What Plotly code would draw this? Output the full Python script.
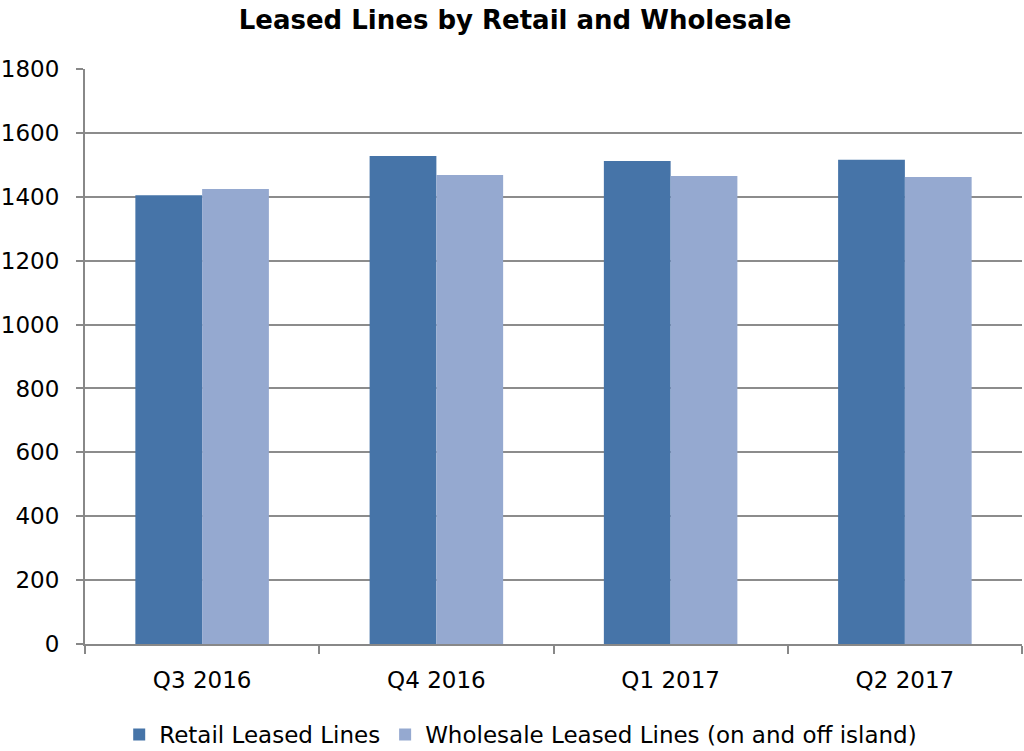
import plotly.graph_objects as go

categories = ["Q3 2016", "Q4 2016", "Q1 2017", "Q2 2017"]
retail = [1405, 1528, 1512, 1516]
wholesale = [1424, 1468, 1465, 1462]
series_names = ["Retail Leased Lines", "Wholesale Leased Lines (on and off island)"]
y_ticks = [0, 200, 400, 600, 800, 1000, 1200, 1400, 1600, 1800]

FONT = "DejaVu Sans"

fig = go.Figure()
fig.add_trace(go.Bar(x=categories, y=retail, name=series_names[0],
                     marker=dict(color="#4674A8", line=dict(width=0))))
fig.add_trace(go.Bar(x=categories, y=wholesale, name=series_names[1],
                     marker=dict(color="#95A9D0", line=dict(width=0))))

fig.update_layout(
    width=1024, height=751,
    paper_bgcolor="white", plot_bgcolor="white",
    margin=dict(l=85, r=2, t=69, b=107, autoexpand=False),
    barmode="group", bargap=0.43, bargroupgap=0,
    title=dict(text="<b>Leased Lines by Retail and Wholesale</b>",
               x=0.503, xanchor="center", y=0.973, yanchor="middle",
               font=dict(family=FONT, size=26, color="black")),
    font=dict(family=FONT, size=23, color="black"),
    legend=dict(orientation="h", x=0.465, xanchor="center", y=-0.12, yanchor="top",
                font=dict(family=FONT, size=23, color="black"),
                itemwidth=30, tracegroupgap=0),
    showlegend=True,
)
fig.update_xaxes(showline=True, linecolor="#888888", linewidth=2,
                 ticks="outside", tickson="boundaries", ticklen=8, tickcolor="#888888",
                 tickwidth=2, showgrid=False, ticklabelstandoff=14,
                 tickfont=dict(family=FONT, size=23, color="black"))
fig.update_yaxes(range=[0, 1800], tickvals=y_ticks,
                 showline=True, linecolor="#888888", linewidth=2,
                 ticks="outside", ticklen=7, tickcolor="#888888", tickwidth=2,
                 showgrid=True, gridcolor="#8c8c8c", gridwidth=2,
                 zeroline=False, ticklabelstandoff=12,
                 tickfont=dict(family=FONT, size=23, color="black"))

fig.write_html("out.html", config={"displayModeBar": False},
               post_script="document.body.style.margin='0';")
